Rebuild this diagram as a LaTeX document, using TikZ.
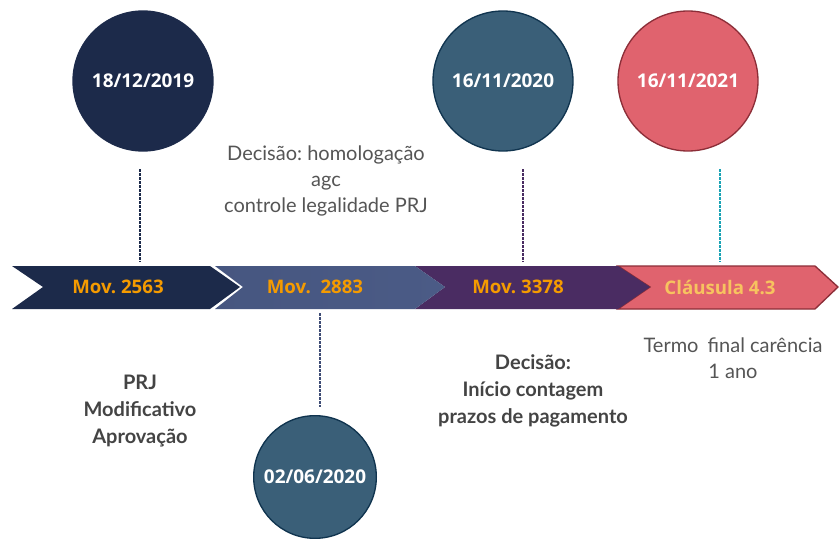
\documentclass[tikz,border=0pt]{standalone}
\usepackage{fontspec}
\setmainfont{Lato}
\newfontfamily\osans{Open Sans}
\frenchspacing
\definecolor{navy}{HTML}{1C2A4A}
\definecolor{slate}{HTML}{4B5B86}
\definecolor{plum}{HTML}{4A2C62}
\definecolor{coral}{HTML}{E0636E}
\definecolor{coraldark}{HTML}{8C2E38}
\definecolor{steel}{HTML}{3A5F78}
\definecolor{steeldark}{HTML}{10344F}
\definecolor{movorange}{HTML}{F59B00}
\definecolor{clausey}{HTML}{F7C35F}
\definecolor{txtgray}{HTML}{555555}
\definecolor{txtdark}{HTML}{444444}
\definecolor{tealline}{HTML}{1AA3B5}
\definecolor{slateline}{HTML}{3E4C75}
\begin{document}
\begin{tikzpicture}[x=0.75pt,y=-0.75pt,
  datecircle/.style={circle,inner sep=0pt,minimum size=105pt,line width=1pt,
    font=\osans\bfseries\fontsize{14.2}{17}\selectfont,text=white},
  movlabel/.style={font=\osans\bfseries\fontsize{14}{16}\selectfont,text=movorange},
  note/.style={align=center,text=txtgray,font=\fontsize{15}{19.5}\selectfont},
  boldnote/.style={align=center,text=txtdark,font=\bfseries\fontsize{15}{20.5}\selectfont},
  dotline/.style={line width=1.7pt,dash pattern=on 2pt off 1pt}]
\useasboundingbox (0,0) rectangle (840,539);
\fill[white] (0,0) rectangle (840,539);
% band segments
\fill[draw=coraldark,fill=coral,line width=1pt] (618,266) -- (815,266) -- (838,287) -- (815,309) -- (618,309) -- (650,287) -- cycle;
\fill[plum] (415,266) -- (618,266) -- (650,287) -- (618,309) -- (415,309) -- (445,287) -- cycle;
\shade[left color=slate!90!navy,right color=slate] (215,266) -- (415,266) -- (445,287) -- (415,309) -- (215,309) -- (243,287) -- cycle;
\fill[navy] (12,266) -- (210,266) -- (240,287) -- (210,309) -- (12,309) -- (43,287) -- cycle;
% labels on band
\node[movlabel] (m1) at (118,287) {Mov. 2563};
\node[movlabel] (m2) at (315,287) {Mov.\ \ 2883};
\node[movlabel] (m3) at (518,287) {Mov. 3378};
\node[movlabel,text=clausey] (m4) at (720,287) {Cláusula 4.3};
% circles
\node[datecircle,fill=navy,draw=navy] (c1) at (143,81) {18/12/2019};
\node[datecircle,fill=steel,draw=steeldark] (c2) at (503,81) {16/11/2020};
\node[datecircle,fill=coral,draw=coraldark] (c3) at (688,81) {16/11/2021};
\node[datecircle,fill=steel,draw=steeldark,minimum size=92pt] (c4) at (315,477) {02/06/2020};
% dotted connectors
\coordinate (d1a) at (140,169); \coordinate (d1b) at (140,262);
\coordinate (d2a) at (523,169); \coordinate (d2b) at (523,262);
\coordinate (d3a) at (720,169); \coordinate (d3b) at (720,262);
\coordinate (d4a) at (320,313); \coordinate (d4b) at (320,407);
\draw[dotline,navy] (d1a) -- (d1b);
\draw[dotline,plum] (d2a) -- (d2b);
\draw[dotline,tealline] (d3a) -- (d3b);
\draw[dotline,slateline] (d4a) -- (d4b);
% notes
\node[note] (n1) at (326,181) {Decisão: homologação\\agc\\controle legalidade PRJ};
\node[boldnote] (n2) at (140,411) {PRJ\\Modificativo\\Aprovação};
\node[boldnote] (n3) at (533,391) {Decisão:\\Início contagem\\prazos de pagamento};
\node[note] (n4) at (733,358) {Termo\hspace{3pt} final carência\\1 ano};
\end{tikzpicture}
\end{document}
